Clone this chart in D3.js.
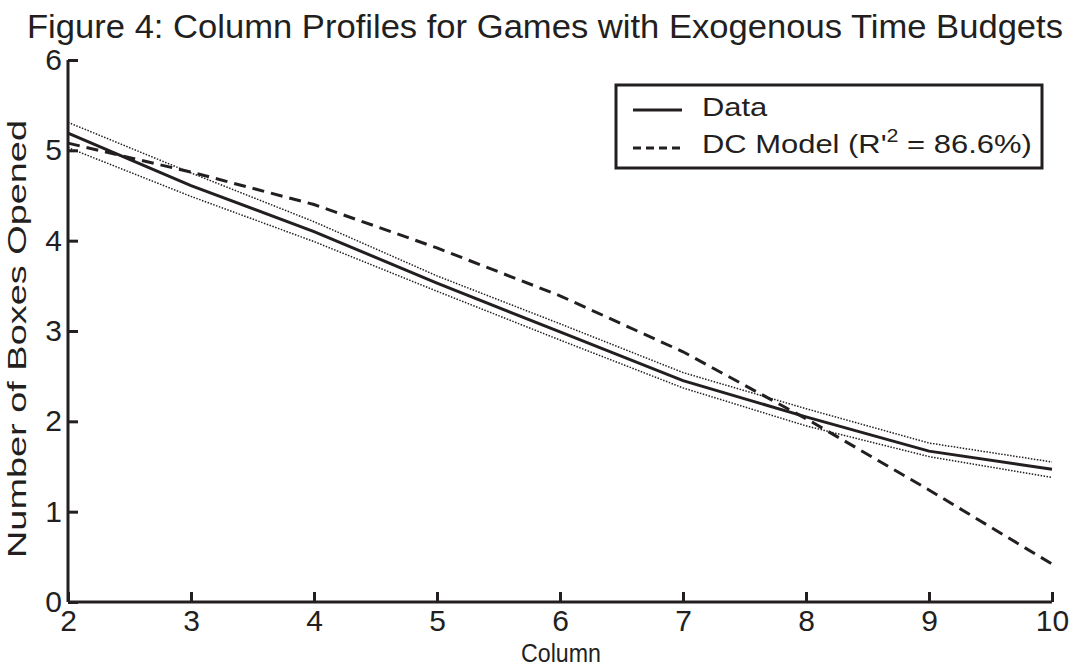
<!DOCTYPE html>
<html><head><meta charset="utf-8">
<script src="https://cdn.jsdelivr.net/npm/d3@7"></script>
<style>body{margin:0;background:#fff}svg{display:block}text{font-family:"Liberation Sans",Arial,sans-serif;fill:#231f20}</style>
</head><body>
<svg id="c" width="1073" height="670"></svg>
<script>
const columns = [2,3,4,5,6,7,8,9,10];
const dataValues = [5.19,4.61,4.10,3.53,2.99,2.45,2.05,1.67,1.47];
const upperCI = [5.31,4.75,4.21,3.61,3.08,2.54,2.14,1.76,1.55];
const lowerCI = [5.03,4.49,3.99,3.44,2.90,2.37,1.95,1.61,1.38];
const modelValues = [5.08,4.76,4.40,3.92,3.39,2.77,2.03,1.24,0.42];
const xTicks = [2,3,4,5,6,7,8,9,10];
const yTicks = [0,1,2,3,4,5,6];
const titleText = "Figure 4: Column Profiles for Games with Exogenous Time Budgets";
const xLabel = "Column", yLabel = "Number of Boxes Opened";
const legendLabels = ["Data","DC Model (R"];

const svg = d3.select("#c");
const ink = "#231f20";
const x = d3.scaleLinear().domain([2,10]).range([68,1052]);
const y = d3.scaleLinear().domain([0,6]).range([602,60]);

svg.append("text").attr("x",27).attr("y",38).attr("font-size",33)
  .attr("textLength",1036).attr("lengthAdjust","spacingAndGlyphs").text(titleText);

const line = vals => d3.line().x((d,i)=>x(columns[i])).y(d=>y(d))(vals);
const g = svg.append("g");
g.append("path").attr("d",line(upperCI)).attr("fill","none").attr("stroke",ink).attr("stroke-width",1.5).attr("stroke-dasharray","1.5,1.5");
g.append("path").attr("d",line(lowerCI)).attr("fill","none").attr("stroke",ink).attr("stroke-width",1.5).attr("stroke-dasharray","1.5,1.5");
g.append("path").attr("d",line(dataValues)).attr("fill","none").attr("stroke",ink).attr("stroke-width",3);
g.append("path").attr("d",line(modelValues)).attr("fill","none").attr("stroke",ink).attr("stroke-width",3).attr("stroke-dasharray","12,7");

// axes
const xa = svg.append("g").attr("transform","translate(0,602)")
  .call(d3.axisBottom(x).tickValues(xTicks).tickSize(-10).tickPadding(8).tickFormat(d3.format("d")));
const ya = svg.append("g").attr("transform","translate(68,0)")
  .call(d3.axisLeft(y).tickValues(yTicks).tickSize(-10).tickPadding(6).tickFormat(d3.format("d")));
[xa,ya].forEach(a=>{
  a.select(".domain").attr("stroke",ink).attr("stroke-width",3);
  a.selectAll(".tick line").attr("stroke",ink).attr("stroke-width",3);
  a.selectAll(".tick text").attr("font-size",30).attr("fill",ink).attr("font-family","Liberation Sans, Arial, sans-serif");
});
xa.select(".domain").attr("d","M68,0H1052");
ya.select(".domain").attr("d","M0,602V60");

svg.append("text").attr("x",521).attr("y",662).attr("font-size",26)
  .attr("textLength",80).attr("lengthAdjust","spacingAndGlyphs").text(xLabel);
svg.append("text").attr("transform","translate(26,558) rotate(-90)").attr("font-size",25)
  .attr("textLength",438).attr("lengthAdjust","spacingAndGlyphs").text(yLabel);

// legend
const lg = svg.append("g");
lg.append("rect").attr("x",616).attr("y",85).attr("width",426).attr("height",83).attr("fill","#fff").attr("stroke",ink).attr("stroke-width",3);
lg.append("line").attr("x1",633).attr("x2",682).attr("y1",110).attr("y2",110).attr("stroke",ink).attr("stroke-width",3);
lg.append("line").attr("x1",633).attr("x2",682).attr("y1",148).attr("y2",148).attr("stroke",ink).attr("stroke-width",3).attr("stroke-dasharray","8,5");
lg.append("text").attr("transform","translate(702,116) scale(1.19,1)").attr("font-size",26).text(legendLabels[0]);
const t2 = lg.append("text").attr("transform","translate(702,153) scale(1.19,1)").attr("font-size",26);
t2.append("tspan").text(legendLabels[1]+"'");
t2.append("tspan").attr("dy",-11).attr("font-size",18).text("2");
t2.append("tspan").attr("dy",11).text(" = 86.6%)");
</script>
</body></html>
